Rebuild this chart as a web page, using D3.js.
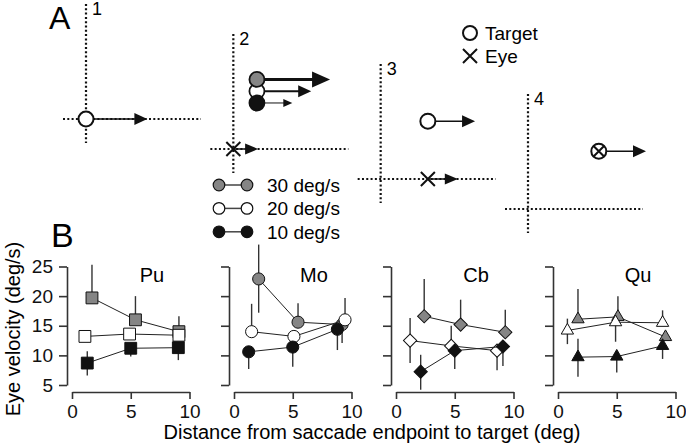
<!DOCTYPE html>
<html>
<head>
<meta charset="utf-8">
<title>Eye velocity</title>
<script src="https://d3js.org/d3.v7.min.js"></script>
<style>
  body { margin: 0; background: #fff; }
  svg { display: block; }
</style>
</head>
<body>
<script>
// ---- panel A schematic (units right of / above fixation)
const sceneLabels = ["1", "2", "3", "4"];
const targetStep = [0, 1, 2, 3];
const targetLift = [0, 2.45, 2.45, 2.45];
const targetArrow = [2.6, 0, 2.0, 2.0];
const eyeStep = [null, 0, 2, 3];
const eyeLift = [null, 0, 0, 2.45];
const eyeArrow = [0, 1.05, 1.27, 0];
const speedOffset = [-0.5, 0, 0.5];
const speedArrow = [3.1, 2.3, 1.5];

// ---- panel B data
const panelNames = ["Pu", "Mo", "Cb", "Qu"];
const speedLabels = ["30 deg/s", "20 deg/s", "10 deg/s"];
const xTicks = [0, 5, 10];
const yTicks = [5, 10, 15, 20, 25];

// rows: 30, 20, 10 deg/s
const puX = [[1.7, 5.4, 9.1], [1.1, 4.9, 9.1], [1.3, 5.0, 9.05]];
const puY = [[19.7, 16.0, 14.0], [13.2, 13.6, 13.4], [8.7, 11.2, 11.3]];
const puLo = [[19.7, 16.0, 14.0], [13.2, 13.6, 13.4], [6.6, 9.8, 9.2]];
const puHi = [[25.3, 20.0, 16.6], [13.2, 13.6, 13.4], [10.7, 11.2, 11.3]];

const moX = [[2.1, 5.45, 9.2], [1.5, 5.1, 9.45], [1.25, 5.0, 8.8]];
const moY = [[22.9, 15.6, 15.2], [14.0, 13.2, 16.0], [10.6, 11.4, 14.4]];
const moLo = [[17.2, 15.6, 12.1], [14.0, 13.2, 16.0], [7.7, 8.1, 10.9]];
const moHi = [[28.7, 18.8, 15.2], [18.7, 13.2, 19.7], [10.6, 11.4, 14.4]];

const cbX = [[2.4, 5.5, 9.3], [1.2, 4.7, 8.6], [2.1, 5.0, 9.1]];
const cbY = [[16.6, 15.2, 13.9], [12.5, 11.6, 10.8], [7.25, 10.8, 11.5]];
const cbLo = [[16.6, 15.2, 13.9], [8.7, 11.6, 7.5], [4.2, 7.7, 8.2]];
const cbHi = [[22.9, 19.4, 17.7], [16.3, 15.0, 10.8], [10.1, 10.8, 11.5]];

const quX = [[1.7, 5.1, 9.15], [0.8, 4.9, 8.9], [1.7, 5.0, 8.9]];
const quY = [[16.1, 16.5, 13.1], [14.2, 15.6, 15.5], [9.7, 9.8, 11.6]];
const quLo = [[16.1, 16.5, 13.1], [11.9, 12.3, 15.5], [6.4, 7.1, 9.4]];
const quHi = [[21.2, 20.0, 13.1], [16.2, 15.6, 17.6], [12.8, 9.8, 11.6]];

const allX = [puX, moX, cbX, quX];
const allY = [puY, moY, cbY, quY];
const allLo = [puLo, moLo, cbLo, quLo];
const allHi = [puHi, moHi, cbHi, quHi];

const fills = ["#858585", "#ffffff", "#111111"];
const font = "'Liberation Sans', Arial, Helvetica, sans-serif";

const svg = d3.select("body").append("svg")
  .attr("width", 686).attr("height", 448)
  .attr("font-family", font)
  .style("background", "#fff");

// ---------- A ----------
svg.append("text").attr("x", 49).attr("y", 29).attr("font-size", 32).text("A");

const sx = d3.scaleLinear().domain([0, 3]).range([86, 528]);
const sy = d3.scaleLinear().domain([0, 3]).range([119, 209]);
const u = d3.scaleLinear().domain([0, 1]).range([0, 23.6]);

function arrow(g, xa, ya, len, lw, hl, hw) {
  let xb = xa + len;
  g.append("line").attr("x1", xa).attr("y1", ya).attr("x2", xb - hl + 1).attr("y2", ya)
    .attr("stroke", "#111").attr("stroke-width", lw);
  g.append("path")
    .attr("d", `M${xb},${ya} L${xb - hl},${ya - hw / 2} L${xb - hl},${ya + hw / 2} Z`)
    .attr("fill", "#111");
}
function cross(g, cx, cy, r) {
  g.append("path")
    .attr("d", `M${cx - r},${cy - r} L${cx + r},${cy + r} M${cx - r},${cy + r} L${cx + r},${cy - r}`)
    .attr("stroke", "#111").attr("stroke-width", 2).attr("fill", "none");
}

const sceneG = svg.append("g");
sceneLabels.forEach((lab, i) => {
  const ox = sx(i), oy = sy(i);
  const g = sceneG.append("g");
  g.append("line").attr("x1", ox).attr("x2", ox).attr("y1", oy - 115).attr("y2", oy + 24)
    .attr("stroke", "#111").attr("stroke-width", 2.2).attr("stroke-dasharray", "2,2.3");
  g.append("line").attr("x1", ox - 23).attr("x2", ox + 115).attr("y1", oy).attr("y2", oy)
    .attr("stroke", "#111").attr("stroke-width", 2.2).attr("stroke-dasharray", "2,2.3");
  g.append("text").attr("x", ox + 6).attr("y", oy - 104).attr("font-size", 18).text(lab);

  const tx = ox + u(targetStep[i]), ty = oy - u(targetLift[i]);
  if (i === 1) {
    // three target speeds stacked
    [1, 0, 2].forEach(s => {
      const cy = ty + u(speedOffset[s]);
      const lw = [3, 2, 1][s], hl = [18, 13, 9][s], hw = [16, 12, 8][s];
      arrow(g, tx, cy, u(speedArrow[s]), lw, hl, hw);
    });
    [1, 0, 2].forEach(s => {
      g.append("circle").attr("cx", tx).attr("cy", ty + u(speedOffset[s])).attr("r", 7.5)
        .attr("fill", fills[s]).attr("stroke", "#111").attr("stroke-width", 1.8);
    });
  } else {
    arrow(g, tx, ty, u(targetArrow[i]), 1.5, 13, 12);
    g.append("circle").attr("cx", tx).attr("cy", ty).attr("r", 7.5)
      .attr("fill", "#fff").attr("stroke", "#111").attr("stroke-width", 2);
  }
  if (eyeStep[i] !== null) {
    const ex = ox + u(eyeStep[i]), ey = oy - u(eyeLift[i]);
    if (eyeArrow[i] > 0) arrow(g, ex, ey, u(eyeArrow[i]), 1.5, 13, 11);
    cross(g, ex, ey, i === 3 ? 5.5 : 7);
  }
});

// Target / Eye legend
svg.append("circle").attr("cx", 470).attr("cy", 33).attr("r", 7)
  .attr("fill", "#fff").attr("stroke", "#111").attr("stroke-width", 2);
svg.append("text").attr("x", 485).attr("y", 40).attr("font-size", 19).text("Target");
cross(svg, 470, 56, 7);
svg.append("text").attr("x", 485).attr("y", 63).attr("font-size", 19).text("Eye");

// speed legend
speedLabels.forEach((lab, s) => {
  const ly = 185 + s * 23.4;
  svg.append("line").attr("x1", 219).attr("x2", 247).attr("y1", ly).attr("y2", ly)
    .attr("stroke", "#444").attr("stroke-width", 1.5);
  [219, 247].forEach(cx => svg.append("circle").attr("cx", cx).attr("cy", ly).attr("r", 5.8)
    .attr("fill", fills[s]).attr("stroke", "#111").attr("stroke-width", 1.2));
  svg.append("text").attr("x", 267).attr("y", ly + 7).attr("font-size", 19).text(lab);
});

// ---------- B ----------
svg.append("text").attr("x", 51).attr("y", 247).attr("font-size", 34).text("B");

const px = d3.scaleLinear().domain([0, 3]).range([72, 558]);
const y = d3.scaleLinear().domain([5, 25]).range([385, 266.5]);
const shapes = [
  d3.symbol().type(d3.symbolSquare).size(140),
  d3.symbol().type(d3.symbolCircle).size(115),
  d3.symbol().type(d3.symbolSquare).size(88),
  d3.symbol().type(d3.symbolTriangle).size(66)
];

panelNames.forEach((name, p) => {
  const x = d3.scaleLinear().domain([0, 10]).range([px(p), px(p) + 117.5]);
  const g = svg.append("g");

  const xa = g.append("g").attr("transform", "translate(0,392)")
    .call(d3.axisBottom(x).tickValues(xTicks).tickSize(7).tickPadding(6).tickSizeOuter(0));
  const ya = g.append("g").attr("transform", `translate(${px(p) - 5},0)`)
    .call(d3.axisLeft(y).tickValues(yTicks).tickSize(8).tickPadding(6).tickSizeOuter(0)
      .tickFormat(p === 0 ? d3.format("d") : () => ""));
  [xa, ya].forEach(a => {
    a.attr("font-family", font).attr("font-size", 19);
    a.selectAll("path, line").attr("stroke", "#333").attr("stroke-width", 1.6);
    a.selectAll("text").attr("fill", "#111");
  });

  g.append("text").attr("x", px(p) + 80).attr("y", 282).attr("text-anchor", "middle")
    .attr("font-size", 20).text(name);

  const line = d3.line().x(d => x(d[0])).y(d => y(d[1]));
  [0, 1, 2].forEach(s => {
    const xs = allX[p][s], ys = allY[p][s], lo = allLo[p][s], hi = allHi[p][s];
    const pts = xs.map((v, k) => [v, ys[k], lo[k], hi[k]]);
    g.selectAll(null).data(pts).enter().append("line")
      .attr("x1", d => x(d[0])).attr("x2", d => x(d[0]))
      .attr("y1", d => y(d[2])).attr("y2", d => y(d[3]))
      .attr("stroke", "#333").attr("stroke-width", 1.4);
    g.append("path").datum(pts).attr("d", line)
      .attr("fill", "none").attr("stroke", "#222").attr("stroke-width", 1);
    g.selectAll(null).data(pts).enter().append("path")
      .attr("d", shapes[p])
      .attr("transform", d => `translate(${x(d[0])},${y(d[1])})` + (p === 2 ? " rotate(45)" : ""))
      .attr("fill", fills[s]).attr("stroke", "#111").attr("stroke-width", 1);
  });
});

svg.append("text").attr("transform", "translate(20,329) rotate(-90)")
  .attr("text-anchor", "middle").attr("font-size", 20).text("Eye velocity (deg/s)");
svg.append("text").attr("x", 372).attr("y", 439)
  .attr("text-anchor", "middle").attr("font-size", 20)
  .text("Distance from saccade endpoint to target (deg)");
</script>
</body>
</html>
